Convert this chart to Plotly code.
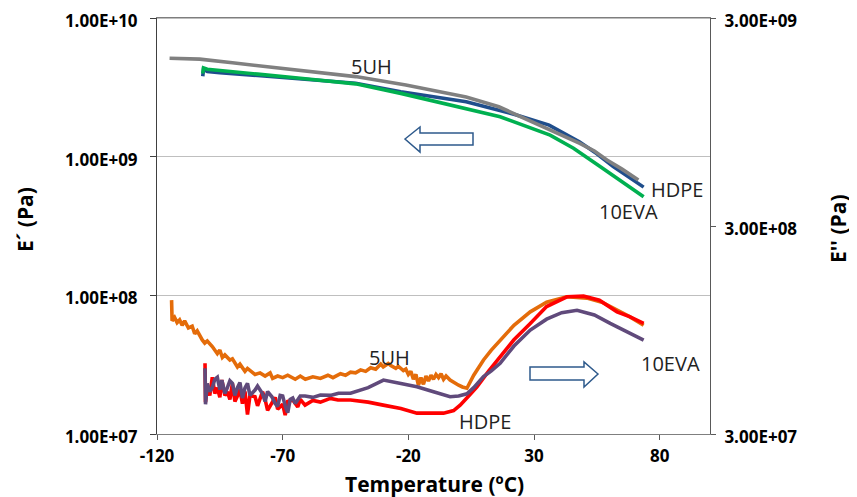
import plotly.graph_objects as go

# ---------------- data ----------------
# Storage modulus E' (left axis)
t_5uh_s = [-115, -110, -103, -90, -75, -60, -41, -21, 3, 16, 32, 40, 48, 54, 59, 65, 71.5]
e_5uh_s = [5.12e9, 5.09e9, 5.05e9, 4.75e9, 4.43e9, 4.13e9, 3.78e9, 3.29e9, 2.69e9, 2.29e9,
           1.69e9, 1.46e9, 1.25e9, 1.10e9, 9.46e8, 8.13e8, 6.79e8]

t_hdpe_s = [-101.8, -101.5, -100, -95, -80, -60, -41, -23, 3, 23, 36, 48, 55, 61.5, 67, 73.6]
e_hdpe_s = [3.80e9, 4.27e9, 4.12e9, 4.03e9, 3.85e9, 3.59e9, 3.38e9, 2.94e9, 2.49e9, 2.00e9,
            1.69e9, 1.28e9, 1.05e9, 8.47e8, 7.24e8, 6.03e8]

t_10eva_s = [-101.8, -101.5, -100, -95, -80, -60, -41, -23, 3, 16.5, 36.4, 45.7, 56.4, 65, 73.6]
e_10eva_s = [3.98e9, 4.37e9, 4.27e9, 4.17e9, 3.94e9, 3.63e9, 3.35e9, 2.86e9, 2.23e9, 1.94e9,
             1.43e9, 1.15e9, 8.47e8, 6.61e8, 5.14e8]

# Loss modulus E'' (right axis)
t_5uh_l = [-114.2, -114.0, -113, -112, -111, -110, -109, -107.5, -106, -105, -104, -103, -102,
           -101, -100, -98, -97, -96, -95, -94, -93, -91, -90, -88, -87, -85, -84, -81, -79,
           -77, -75, -74, -72, -70, -68, -65, -63, -61, -58, -55, -52, -50, -47, -45, -43,
           -41, -39, -37, -35, -33, -31, -30, -28, -27, -25, -24, -22, -21, -20, -19, -18,
           -17, -16, -15, -14, -13, -12, -11, -10, -9, -8, -7, -6, -5, -3.4, -2, 0, 1.5,
           3.3, 6, 9.9, 13, 16.5, 22, 28.5, 35, 43, 51, 57, 63, 68, 73.6]
e_5uh_l = [1.32e8, 1.05e8, 1.09e8, 1.03e8, 1.06e8, 1.00e8, 1.05e8, 9.7e7, 9.9e7, 9.1e7,
           9.4e7, 8.9e7, 8.5e7, 8.2e7, 8.4e7, 7.9e7, 7.6e7, 7.3e7, 7.6e7, 7.0e7, 7.2e7,
           6.8e7, 6.9e7, 6.3e7, 6.5e7, 6.0e7, 6.2e7, 5.8e7, 5.9e7, 5.7e7, 5.9e7, 5.55e7,
           5.7e7, 5.6e7, 5.75e7, 5.5e7, 5.7e7, 5.5e7, 5.65e7, 5.55e7, 5.75e7, 5.6e7, 5.85e7,
           5.75e7, 5.95e7, 5.9e7, 6.1e7, 6.0e7, 6.25e7, 6.15e7, 6.5e7, 6.3e7, 6.55e7, 6.4e7,
           6.2e7, 6.35e7, 6.05e7, 6.15e7, 5.8e7, 6.0e7, 5.5e7, 5.8e7, 5.15e7, 5.6e7, 5.2e7,
           5.7e7, 5.4e7, 5.75e7, 5.5e7, 5.8e7, 5.6e7, 5.85e7, 5.5e7, 5.7e7, 5.45e7, 5.3e7,
           5.15e7, 5.05e7, 4.98e7, 5.75e7, 6.81e7, 7.59e7, 8.49e7, 1.00e8, 1.16e8, 1.29e8,
           1.37e8, 1.35e8, 1.29e8, 1.18e8, 1.10e8, 1.00e8]

t_hdpe_l = [-100.9, -100.7, -100, -99, -98, -97, -96, -95, -94.2, -93, -92, -91, -90, -89,
            -88, -87, -86, -85, -84, -83, -81, -80, -78, -77, -76, -74.3, -73, -72, -70, -69,
            -68, -66, -64, -63, -61.1, -58, -55, -51, -48, -43, -36, -30, -23, -16.6, -10, -6,
            -2, 0.6, 4, 7.3, 12, 16.5, 22, 28.5, 35, 43.1, 49.7, 56, 63, 68, 73.6]
e_hdpe_l = [6.56e7, 4.27e7, 5.01e7, 4.6e7, 5.62e7, 4.7e7, 5.01e7, 4.5e7, 5.45e7, 4.6e7,
            4.79e7, 4.4e7, 5.25e7, 4.3e7, 4.57e7, 4.9e7, 4.2e7, 4.8e7, 3.72e7, 4.6e7, 4.53e7,
            4.1e7, 4.79e7, 4.4e7, 3.9e7, 4.23e7, 4.5e7, 3.95e7, 4.17e7, 3.7e7, 4.3e7, 4.37e7,
            4.05e7, 4.4e7, 4.13e7, 4.35e7, 4.27e7, 4.45e7, 4.37e7, 4.37e7, 4.27e7, 4.13e7,
            3.98e7, 3.78e7, 3.76e7, 3.78e7, 3.89e7, 4.13e7, 4.57e7, 5.06e7, 6.03e7, 7.06e7,
            8.51e7, 1.02e8, 1.23e8, 1.37e8, 1.38e8, 1.32e8, 1.16e8, 1.10e8, 1.02e8]

t_10eva_l = [-100.9, -100.7, -100, -99, -98, -97, -96, -95, -94.2, -93, -92, -91, -90, -89,
             -88, -87, -86, -85, -84, -83, -81, -80, -78, -77, -76, -74.3, -73, -72, -71, -70,
             -69, -68, -67, -66, -65, -63, -61.1, -58, -55, -51, -47.8, -43, -36, -29.9, -23,
             -16.6, -10, -3.4, 0, 3.3, 6, 9.9, 13, 16.5, 22, 28.5, 35, 41, 47.1, 54, 60.3, 67,
             73.6]
e_10eva_l = [6.21e7, 4.17e7, 5.25e7, 4.8e7, 5.01e7, 5.5e7, 5.62e7, 4.9e7, 5.45e7, 4.7e7,
             5.01e7, 5.4e7, 5.25e7, 4.6e7, 5.01e7, 5.3e7, 4.47e7, 5.0e7, 5.25e7, 4.6e7, 4.88e7,
             5.1e7, 4.68e7, 4.3e7, 4.8e7, 4.53e7, 4.2e7, 4.07e7, 4.6e7, 4.57e7, 4.1e7, 3.80e7,
             4.4e7, 4.47e7, 4.2e7, 4.57e7, 4.57e7, 4.5e7, 4.62e7, 4.6e7, 4.71e7, 4.71e7,
             5.01e7, 5.45e7, 5.25e7, 5.06e7, 4.79e7, 4.53e7, 4.57e7, 4.68e7, 5.01e7, 5.66e7,
             6.03e7, 6.56e7, 7.94e7, 9.48e7, 1.07e8, 1.15e8, 1.18e8, 1.12e8, 1.02e8, 9.33e7,
             8.49e7]

x_ticks = [-120, -70, -20, 30, 80]
x_ticktext = ["-120", "-70", "-20", "30", "80"]
left_ticks = [1e7, 1e8, 1e9, 1e10]
left_ticktext = ["1.00E+07", "1.00E+08", "1.00E+09", "1.00E+10"]
right_ticks = [3e7, 3e8, 3e9]
right_ticktext = ["3.00E+07", "3.00E+08", "3.00E+09"]

# ---------------- figure ----------------
# the page body has an 8px margin, so the figure is shifted by (8, 8)
OFF = 8
W, H = 857 - OFF, 497 - OFF
L, R, T, B = 157 - OFF, 147, 18 - OFF, 63
pw, ph = W - L - R, H - T - B


def px(x):  # page pixel -> paper
    return (x - OFF - L) / pw


def py(y):
    return (H - B - (y - OFF)) / ph


fig = go.Figure()
lw = 3.6
fig.add_trace(go.Scatter(x=t_5uh_l, y=e_5uh_l, mode="lines", yaxis="y2",
                         line=dict(color="#E46C0A", width=lw), name="5UH E''"))
fig.add_trace(go.Scatter(x=t_hdpe_l, y=e_hdpe_l, mode="lines", yaxis="y2",
                         line=dict(color="#FF0000", width=lw), name="HDPE E''"))
fig.add_trace(go.Scatter(x=t_10eva_l, y=e_10eva_l, mode="lines", yaxis="y2",
                         line=dict(color="#604A7B", width=lw), name="10EVA E''"))
fig.add_trace(go.Scatter(x=t_hdpe_s, y=e_hdpe_s, mode="lines",
                         line=dict(color="#1F4E8C", width=lw), name="HDPE E'"))
fig.add_trace(go.Scatter(x=t_10eva_s, y=e_10eva_s, mode="lines",
                         line=dict(color="#00B050", width=lw), name="10EVA E'"))
fig.add_trace(go.Scatter(x=t_5uh_s, y=e_5uh_s, mode="lines",
                         line=dict(color="#808080", width=lw), name="5UH E'"))

tickfont = dict(family="Open Sans", size=17, color="black", weight="bold")
titlefont = dict(family="Open Sans", size=21, color="black", weight="bold")

fig.update_layout(
    width=W, height=H,
    margin=dict(l=L, r=R, t=T, b=B, autoexpand=False),
    paper_bgcolor="white", plot_bgcolor="white",
    showlegend=False,
    xaxis=dict(range=[-120, 100], tickvals=x_ticks, ticktext=x_ticktext, ticks="outside",
               ticklen=5, tickcolor="#595959", showline=True, mirror=True,
               linecolor="#7F7F7F", linewidth=1, showgrid=False, zeroline=False,
               tickfont=tickfont, ticklabeloverflow="allow", automargin=False,
               ticklabelstandoff=2),
    yaxis=dict(type="log", range=[7, 10], tickvals=left_ticks, ticktext=left_ticktext,
               ticks="outside", ticklen=6, tickcolor="#404040", showline=True,
               linecolor="#404040", linewidth=1, showgrid=True, gridcolor="#BFBFBF",
               gridwidth=1, zeroline=False, tickfont=tickfont, ticklabelstandoff=9,
               ticklabelshift=3, ticklabeloverflow="allow", automargin=False),
    yaxis2=dict(type="log", range=[7.47712, 9.47713], tickvals=right_ticks,
                ticktext=right_ticktext, overlaying="y", side="right", ticks="outside",
                ticklen=5, tickcolor="#595959", showline=True, linecolor="#595959",
                linewidth=1, showgrid=False, zeroline=False, tickfont=tickfont,
                ticklabelstandoff=5, ticklabelshift=3, ticklabeloverflow="allow",
                automargin=False),
)

# axis titles
fig.add_annotation(text="Temperature (ºC)", xref="paper", yref="paper", x=px(434), y=py(484),
                   showarrow=False, font=titlefont, xanchor="center", yanchor="middle")
fig.add_annotation(text="E´ (Pa)", xref="paper", yref="paper", x=px(25), y=py(220),
                   showarrow=False, font=titlefont, textangle=-90,
                   xanchor="center", yanchor="middle")
fig.add_annotation(text="E'' (Pa)", xref="paper", yref="paper", x=px(838), y=py(229),
                   showarrow=False, font=titlefont, textangle=-90,
                   xanchor="center", yanchor="middle")

# top border of the plot area
fig.add_shape(type="line", xref="paper", yref="paper", x0=0, x1=1, y0=1, y1=1,
              line=dict(color="#7F7F7F", width=1.2))

# curve labels
lab_font = dict(family="Open Sans", size=20, color="#222222")
labels = [("5UH", 371, 66), ("HDPE", 677, 189), ("10EVA", 628, 211),
          ("5UH", 389, 357), ("HDPE", 485, 421), ("10EVA", 670, 363)]
for txt, x, y in labels:
    fig.add_annotation(text=txt, xref="paper", yref="paper", x=px(x), y=py(y),
                       showarrow=False, font=lab_font, xanchor="center", yanchor="middle")


# block arrows (decoration)
def arrow_path(points):
    return "M " + " L ".join(f"{px(a):.5f},{py(b):.5f}" for a, b in points) + " Z"


left_arrow = [(405, 139), (420, 127), (420, 133), (473, 133), (473, 145), (420, 145), (420, 152)]
right_arrow = [(598, 374), (584, 362), (584, 367), (530, 367), (530, 380), (584, 380), (584, 387)]
for pts in (left_arrow, right_arrow):
    fig.add_shape(type="path", xref="paper", yref="paper", path=arrow_path(pts),
                  line=dict(color="#2E5A8C", width=1.5), fillcolor="white")

fig.write_html("out.html")
